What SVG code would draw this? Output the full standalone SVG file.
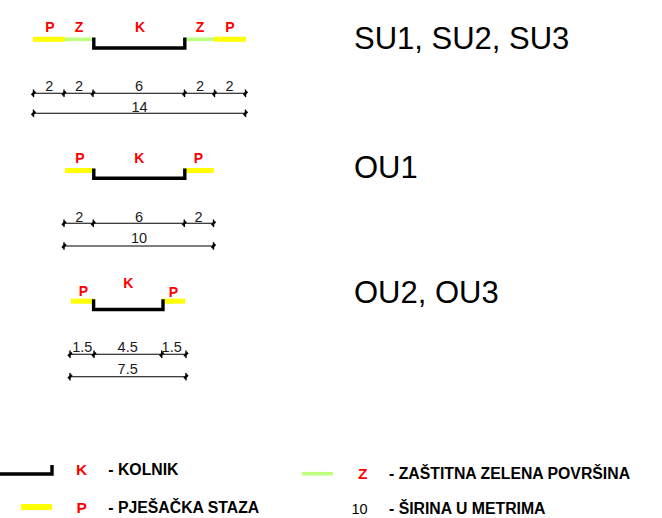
<svg xmlns="http://www.w3.org/2000/svg" xmlns:xlink="http://www.w3.org/1999/xlink" width="662" height="518" viewBox="0 0 662 518">
<style>
.y{stroke:#ffff00;stroke-width:5;fill:none}
.g{stroke:#bfff80;stroke-width:3.6;fill:none}
.k{stroke:#000;stroke-width:3.4;fill:none;stroke-linejoin:miter}
.d{stroke:#000;stroke-width:1.1;fill:none}
.lbl{font-family:"Liberation Sans",Arial,sans-serif;font-weight:bold;font-size:14px;fill:#ff0000;text-anchor:middle}
.dim{font-family:"Liberation Sans",Arial,sans-serif;font-size:14.5px;fill:#1a1a1a;text-anchor:middle}
.ttl{font-family:"Liberation Sans",Arial,sans-serif;font-size:31px;fill:#000}
.leg{font-family:"Liberation Sans",Arial,sans-serif;font-weight:bold;font-size:15.8px;fill:#000}
.legr{font-family:"Liberation Sans",Arial,sans-serif;font-weight:bold;font-size:15.5px;fill:#ff0000;text-anchor:middle}
</style>
<defs>
<g id="t">
<line x1="0" y1="-3.8" x2="0" y2="3.8" stroke="#000" stroke-width="1.4"/>
<line x1="-1.8" y1="1.8" x2="1.8" y2="-1.8" stroke="#000" stroke-width="2.4"/>
</g>
</defs>
<rect width="662" height="518" fill="#fff"/>

<g id="su">
<line class="y" x1="33" y1="39.3" x2="65" y2="39.3"/>
<line class="g" x1="65" y1="39.3" x2="93" y2="39.3"/>
<line class="g" x1="185" y1="39.3" x2="214" y2="39.3"/>
<line class="y" x1="214" y1="39.3" x2="246" y2="39.3"/>
<path class="k" d="M93.8,37.5 V48 H184.8 V37.5"/>
<text class="lbl" x="50" y="31.7">P</text>
<text class="lbl" x="79" y="31.7">Z</text>
<text class="lbl" x="140" y="31.7">K</text>
<text class="lbl" x="200" y="31.7">Z</text>
<text class="lbl" x="230" y="31.7">P</text>
<text class="ttl" x="354" y="49.3">SU1, SU2, SU3</text>
</g>
<g id="su-dim">
<line class="d" x1="33.5" y1="93.3" x2="245.5" y2="93.3"/>
<use xlink:href="#t" x="33.5" y="93.3"/>
<use xlink:href="#t" x="64" y="93.3"/>
<use xlink:href="#t" x="93" y="93.3"/>
<use xlink:href="#t" x="184.5" y="93.3"/>
<use xlink:href="#t" x="214.5" y="93.3"/>
<use xlink:href="#t" x="245.5" y="93.3"/>
<text class="dim" x="49.3" y="91">2</text>
<text class="dim" x="79" y="91">2</text>
<text class="dim" x="139" y="91">6</text>
<text class="dim" x="200" y="91">2</text>
<text class="dim" x="229.5" y="91">2</text>
<line class="d" x1="33.5" y1="113.3" x2="245.5" y2="113.3"/>
<use xlink:href="#t" x="33.5" y="113.3"/>
<use xlink:href="#t" x="245.5" y="113.3"/>
<text class="dim" x="139.5" y="112">14</text>
</g>

<g id="ou1">
<line class="y" x1="65" y1="170.5" x2="93" y2="170.5"/>
<line class="y" x1="185" y1="170.5" x2="214" y2="170.5"/>
<path class="k" d="M93.8,168.5 V178.3 H184.8 V168.5"/>
<text class="lbl" x="80" y="163.3">P</text>
<text class="lbl" x="139.3" y="163.3">K</text>
<text class="lbl" x="198.3" y="163.3">P</text>
<text class="ttl" x="354" y="178.3">OU1</text>
</g>
<g id="ou1-dim">
<line class="d" x1="64" y1="223.3" x2="213.5" y2="223.3"/>
<use xlink:href="#t" x="64" y="223.3"/>
<use xlink:href="#t" x="93.3" y="223.3"/>
<use xlink:href="#t" x="184.3" y="223.3"/>
<use xlink:href="#t" x="213.5" y="223.3"/>
<text class="dim" x="79.3" y="221.7">2</text>
<text class="dim" x="139" y="221.7">6</text>
<text class="dim" x="198.5" y="221.7">2</text>
<line class="d" x1="64" y1="246" x2="213.5" y2="246"/>
<use xlink:href="#t" x="64" y="246"/>
<use xlink:href="#t" x="213.5" y="246"/>
<text class="dim" x="139" y="243">10</text>
</g>

<g id="ou2">
<line class="y" x1="71" y1="301.2" x2="93" y2="301.2"/>
<line class="y" x1="162" y1="301.2" x2="185" y2="301.2"/>
<path class="k" d="M93.6,299.3 V309.5 H163 V299.3"/>
<text class="lbl" x="83.3" y="296">P</text>
<text class="lbl" x="128.3" y="288.3">K</text>
<text class="lbl" x="173.3" y="296.7">P</text>
<text class="ttl" x="354" y="303.3">OU2, OU3</text>
</g>
<g id="ou2-dim">
<line class="d" x1="70" y1="354.3" x2="186" y2="354.3"/>
<use xlink:href="#t" x="70" y="354.3"/>
<use xlink:href="#t" x="94" y="354.3"/>
<use xlink:href="#t" x="161.7" y="354.3"/>
<use xlink:href="#t" x="186" y="354.3"/>
<text class="dim" x="82.3" y="352.3">1.5</text>
<text class="dim" x="127.7" y="352.3">4.5</text>
<text class="dim" x="171.7" y="352.3">1.5</text>
<line class="d" x1="70" y1="376.7" x2="186" y2="376.7"/>
<use xlink:href="#t" x="70" y="376.7"/>
<use xlink:href="#t" x="186" y="376.7"/>
<text class="dim" x="127.7" y="374">7.5</text>
</g>

<g id="legend">
<path class="k" d="M0,474 H52 V465"/>
<text class="legr" x="81.7" y="475">K</text>
<text class="leg" x="108.3" y="475">- KOLNIK</text>
<line class="y" x1="21" y1="507" x2="52" y2="507" style="stroke-width:6"/>
<text class="legr" x="81.7" y="513.3">P</text>
<text class="leg" x="108.3" y="513.3">- PJEŠAČKA STAZA</text>
<line class="g" x1="302" y1="473.7" x2="333" y2="473.7"/>
<text class="legr" x="362.7" y="479.3">Z</text>
<text class="leg" x="389" y="479.3">- ZAŠTITNA ZELENA POVRŠINA</text>
<text class="dim" x="359.5" y="514" style="fill:#000">10</text>
<text class="leg" x="389" y="514">- ŠIRINA U METRIMA</text>
</g>
</svg>
